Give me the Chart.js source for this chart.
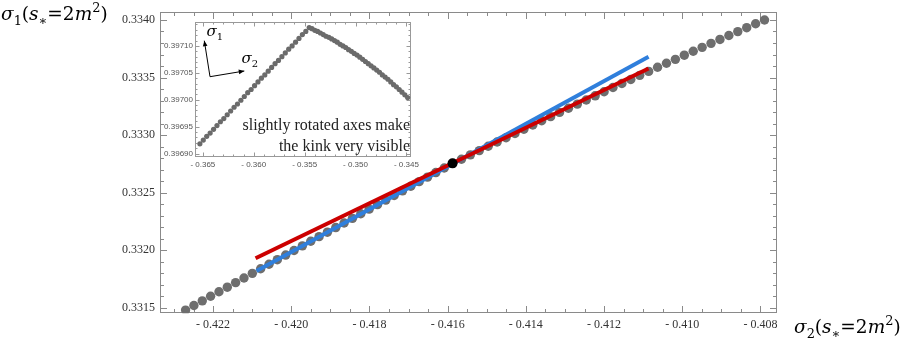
<!DOCTYPE html>
<html>
<head>
<meta charset="utf-8">
<script src="https://cdn.jsdelivr.net/npm/chart.js@4.4.1/dist/chart.umd.min.js"></script>
<style>
  body { margin: 0; background: #fff; }
  #wrap { position: relative; width: 900px; height: 345px; }
  #main { position: absolute; left: 0; top: 0; }
  #inset { position: absolute; left: 160px; top: 14px; }
</style>
</head>
<body>
<div id="wrap">
  <canvas id="main" width="900" height="345"></canvas>
  <canvas id="inset" width="262" height="160"></canvas>
</div>
<script>
// --- data ---
const sigma2 = [
  -0.422703, -0.422490, -0.422276, -0.422063, -0.421849, -0.421636, -0.421423, -0.421209, -0.420996, -0.420783,
  -0.420569, -0.420356, -0.420143, -0.419929, -0.419716, -0.419502, -0.419289, -0.419076, -0.418862, -0.418649,
  -0.418436, -0.418222, -0.418009, -0.417795, -0.417582, -0.417369, -0.417155, -0.416942, -0.416729, -0.416515,
  -0.416302, -0.416088, -0.415875,
  -0.415647, -0.415419, -0.415191, -0.414963, -0.414735, -0.414507, -0.414279, -0.414051, -0.413823, -0.413595,
  -0.413367, -0.413139, -0.412911, -0.412683, -0.412455, -0.412227, -0.411999, -0.411772, -0.411544, -0.411316,
  -0.411088, -0.410860, -0.410632, -0.410404, -0.410176, -0.409948, -0.409720, -0.409492, -0.409264, -0.409036,
  -0.408808, -0.408580, -0.408352, -0.408124, -0.407896
];
const sigma1 = [
  0.331479, 0.331519, 0.331559, 0.331599, 0.331638, 0.331678, 0.331718, 0.331758, 0.331798, 0.331838,
  0.331877, 0.331917, 0.331957, 0.331997, 0.332037, 0.332077, 0.332117, 0.332156, 0.332196, 0.332236,
  0.332276, 0.332316, 0.332356, 0.332395, 0.332435, 0.332475, 0.332515, 0.332555, 0.332595, 0.332634,
  0.332674, 0.332714, 0.332754,
  0.332790, 0.332828, 0.332865, 0.332903, 0.332940, 0.332977, 0.333014, 0.333051, 0.333087, 0.333124,
  0.333160, 0.333197, 0.333233, 0.333269, 0.333305, 0.333341, 0.333376, 0.333413, 0.333448, 0.333483,
  0.333519, 0.333553, 0.333589, 0.333624, 0.333658, 0.333694, 0.333728, 0.333762, 0.333797, 0.333831,
  0.333865, 0.333899, 0.333933, 0.333967, 0.334000
];
const kinkX = [-0.415875];
const kinkY = [0.332754];
const blueFitX = [-0.420888, -0.410862];
const blueFitY = [0.331819, 0.333681];
const redFitX = [-0.420913, -0.410862];
const redFitY = [0.331930, 0.333579];
const xTicks = [-0.422, -0.420, -0.418, -0.416, -0.414, -0.412, -0.410, -0.408];
const yTicks = [0.3315, 0.3320, 0.3325, 0.3330, 0.3335, 0.3340];

// inset (rotated axes)
const insetX = [
  -0.365290, -0.364954, -0.364619, -0.364283, -0.363948, -0.363612, -0.363276, -0.362941, -0.362605, -0.362269,
  -0.361934, -0.361598, -0.361263, -0.360927, -0.360591, -0.360256, -0.359920, -0.359584, -0.359249, -0.358913,
  -0.358578, -0.358242, -0.357906, -0.357571, -0.357235, -0.356899, -0.356564, -0.356228, -0.355893, -0.355557,
  -0.355221, -0.354886, -0.354550,
  -0.354274, -0.353997, -0.353721, -0.353445, -0.353169, -0.352892, -0.352616, -0.352340, -0.352063, -0.351787,
  -0.351511, -0.351234, -0.350958, -0.350682, -0.350405, -0.350129, -0.349853, -0.349577, -0.349300, -0.349024,
  -0.348748, -0.348471, -0.348195, -0.347919, -0.347642, -0.347366, -0.347090, -0.346814, -0.346537, -0.346261,
  -0.345985, -0.345708, -0.345432, -0.345156, -0.344879
];
const insetY = [
  0.396918, 0.396925, 0.396932, 0.396938, 0.396945, 0.396952, 0.396959, 0.396965, 0.396972, 0.396979,
  0.396986, 0.396992, 0.396999, 0.397006, 0.397013, 0.397019, 0.397026, 0.397033, 0.397040, 0.397046,
  0.397053, 0.397060, 0.397067, 0.397073, 0.397080, 0.397087, 0.397094, 0.397100, 0.397107, 0.397114,
  0.397121, 0.397127, 0.397134,
  0.397132, 0.397129, 0.397127, 0.397124, 0.397121, 0.397118, 0.397116, 0.397113, 0.397110, 0.397107,
  0.397103, 0.397100, 0.397097, 0.397093, 0.397090, 0.397086, 0.397083, 0.397079, 0.397075, 0.397071,
  0.397067, 0.397063, 0.397059, 0.397055, 0.397051, 0.397046, 0.397042, 0.397038, 0.397033, 0.397028,
  0.397024, 0.397019, 0.397014, 0.397009, 0.397004
];
const insetXTicks = [-0.365, -0.360, -0.355, -0.350, -0.345];
const insetYTicks = [0.39690, 0.39695, 0.39700, 0.39705, 0.39710];

const pts = (xs, ys) => xs.map((x, i) => ({ x: x, y: ys[i] }));
const minus = (v, d) => (v < 0 ? '- ' : '') + Math.abs(v).toFixed(d);

// 枠と内向きの目盛り（Mathematica風）
function framePlugin(o) {
  return {
    id: 'frame',
    beforeDatasetsDraw(chart) {
      const { ctx, chartArea: a } = chart;
      const sx = chart.scales.x, sy = chart.scales.y;
      ctx.save();
      ctx.strokeStyle = o.color;
      ctx.lineWidth = 1;
      const L = Math.round(a.left) + 0.5, R = Math.round(a.right) - 0.5;
      const T = Math.round(a.top) + 0.5, B = Math.round(a.bottom) - 0.5;
      ctx.strokeRect(L, T, R - L, B - T);
      ctx.beginPath();
      const xs = o.xTicks, ys = o.yTicks;
      const xStep = (xs[1] - xs[0]) / o.xMinor, yStep = (ys[1] - ys[0]) / o.yMinor;
      for (let k = -o.xMinor * 2; k <= (xs.length + 1) * o.xMinor; k++) {
        const v = xs[0] + k * xStep;
        if (v < sx.min || v > sx.max) continue;
        const len = (k % o.xMinor === 0) ? o.major : o.minor;
        const px = Math.round(sx.getPixelForValue(v)) + 0.5;
        ctx.moveTo(px, B); ctx.lineTo(px, B - len);
        ctx.moveTo(px, T); ctx.lineTo(px, T + len);
      }
      for (let k = -o.yMinor * 2; k <= (ys.length + 1) * o.yMinor; k++) {
        const v = ys[0] + k * yStep;
        if (v < sy.min || v > sy.max) continue;
        const len = (k % o.yMinor === 0) ? o.major : o.minor;
        const py = Math.round(sy.getPixelForValue(v)) + 0.5;
        ctx.moveTo(L, py); ctx.lineTo(L + len, py);
        ctx.moveTo(R, py); ctx.lineTo(R - len, py);
      }
      ctx.stroke();
      ctx.restore();
    }
  };
}

function drawRich(ctx, parts, x, y, size) {
  let cx = x;
  for (const p of parts) {
    const s = (p.sub || p.sup) ? size * 0.7 : size;
    ctx.font = (p.it ? 'italic ' : '') + s + 'px "DejaVu Serif"';
    const dy = p.sub ? size * 0.28 : (p.sup ? -size * 0.42 : 0);
    ctx.fillText(p.t, cx, y + dy);
    cx += ctx.measureText(p.t).width;
  }
}
const axisLabel = n => [
  { t: 'σ', it: 1 }, { t: n, sub: 1 }, { t: '(' }, { t: 's', it: 1 }, { t: '∗', sub: 1 },
  { t: '=2' }, { t: 'm', it: 1 }, { t: '2', sup: 1 }, { t: ')' }
];

const labelPlugin = {
  id: 'axisLabels',
  afterDraw(chart) {
    const ctx = chart.ctx;
    ctx.save();
    ctx.fillStyle = '#000';
    ctx.textBaseline = 'alphabetic';
    ctx.textAlign = 'left';
    drawRich(ctx, axisLabel('1'), 1, 20, 18.5);
    drawRich(ctx, axisLabel('2'), 794, 333, 18.5);
    ctx.restore();
  }
};

const tickFont = { family: '"Liberation Serif"', size: 12 };

new Chart(document.getElementById('main'), {
  type: 'scatter',
  data: {
    datasets: [
      { data: pts(kinkX, kinkY), backgroundColor: '#000', borderWidth: 0, pointRadius: 5, order: 1 },
      { type: 'line', data: pts(redFitX, redFitY), borderColor: '#cc0000', borderWidth: 4,
        pointRadius: 0, borderCapStyle: 'butt', order: 2 },
      { type: 'line', data: pts(blueFitX, blueFitY), borderColor: '#2f7fdc', borderWidth: 4,
        pointRadius: 0, borderCapStyle: 'butt', order: 3 },
      { data: pts(sigma2, sigma1), backgroundColor: '#6e6e6e', borderWidth: 0, pointRadius: 4.7, order: 4 }
    ]
  },
  options: {
    responsive: false,
    animation: false,
    layout: { padding: { left: 0, right: 123.5, top: 5, bottom: 0 } },
    plugins: { legend: { display: false }, tooltip: { enabled: false } },
    scales: {
      x: {
        type: 'linear', min: -0.42337, max: -0.40759,
        grid: { display: false, drawTicks: false }, border: { display: false },
        afterBuildTicks: s => { s.ticks = xTicks.map(v => ({ value: v })); },
        afterFit: s => { s.height = 31.7; },
        ticks: { autoSkip: false, maxRotation: 0, padding: 4, color: '#333', font: tickFont,
                 callback: v => minus(v, 3) }
      },
      y: {
        type: 'linear', min: 0.331451, max: 0.334072,
        grid: { display: false, drawTicks: false }, border: { display: false },
        afterBuildTicks: s => { s.ticks = yTicks.map(v => ({ value: v })); },
        afterFit: s => { s.width = 159.5; },
        ticks: { autoSkip: false, padding: 4.5, color: '#333', font: tickFont,
                 callback: v => v.toFixed(4) }
      }
    }
  },
  plugins: [framePlugin({ color: '#8a8a8a', xTicks, yTicks, xMinor: 4, yMinor: 5, major: 6.5, minor: 3.5 }),
            labelPlugin]
});

// インセット: 矢印と説明文
const insetNotes = {
  id: 'insetNotes',
  afterDraw(chart) {
    const ctx = chart.ctx;
    ctx.save();
    ctx.strokeStyle = '#000'; ctx.fillStyle = '#000'; ctx.lineWidth = 1;
    const arrow = (x0, y0, x1, y1) => {
      ctx.beginPath(); ctx.moveTo(x0, y0); ctx.lineTo(x1, y1); ctx.stroke();
      const ang = Math.atan2(y1 - y0, x1 - x0), h = 6;
      ctx.beginPath();
      ctx.moveTo(x1, y1);
      ctx.lineTo(x1 - h * Math.cos(ang - 0.4), y1 - h * Math.sin(ang - 0.4));
      ctx.lineTo(x1 - h * Math.cos(ang + 0.4), y1 - h * Math.sin(ang + 0.4));
      ctx.closePath(); ctx.fill();
    };
    arrow(50, 62.7, 44.3, 26.7);
    arrow(50, 62.7, 84.3, 57);
    const sig = (n, x, y) => {
      ctx.font = 'italic 15px "DejaVu Serif"'; ctx.fillText('σ', x, y);
      const w = ctx.measureText('σ').width;
      ctx.font = '10px "DejaVu Serif"'; ctx.fillText(n, x + w, y + 4);
    };
    ctx.textAlign = 'left';
    sig('1', 46.5, 22);
    sig('2', 81.5, 49);
    ctx.textAlign = 'right';
    ctx.font = '16px "Liberation Serif"';
    ctx.fillStyle = '#222';
    ctx.fillText('slightly rotated axes make', 250, 115.5);
    ctx.fillText('the kink very visible', 250, 137);
    ctx.restore();
  }
};

const insetFont = { family: '"Liberation Sans"', size: 8 };

new Chart(document.getElementById('inset'), {
  type: 'scatter',
  data: {
    datasets: [
      { data: pts(insetX, insetY), backgroundColor: '#6b6b6b', borderWidth: 0, pointRadius: 2.6 }
    ]
  },
  options: {
    responsive: false,
    animation: false,
    layout: { padding: { left: 0, right: 6, top: 7.7, bottom: 0 } },
    plugins: { legend: { display: false }, tooltip: { enabled: false } },
    scales: {
      x: {
        type: 'linear', min: -0.36577, max: -0.34452,
        grid: { display: false, drawTicks: false }, border: { display: false },
        afterBuildTicks: s => { s.ticks = insetXTicks.map(v => ({ value: v })); },
        afterFit: s => { s.height = 17; },
        ticks: { autoSkip: false, maxRotation: 0, padding: 3, color: '#555', font: insetFont,
                 callback: v => minus(v, 3) }
      },
      y: {
        type: 'linear', min: 0.3968935, max: 0.397145,
        grid: { display: false, drawTicks: false }, border: { display: false },
        afterBuildTicks: s => { s.ticks = insetYTicks.map(v => ({ value: v })); },
        afterFit: s => { s.width = 35; },
        ticks: { autoSkip: false, padding: 2, color: '#555', font: insetFont,
                 callback: v => v.toFixed(5) }
      }
    }
  },
  plugins: [framePlugin({ color: '#999', xTicks: insetXTicks, yTicks: insetYTicks,
                          xMinor: 5, yMinor: 5, major: 4, minor: 2 }), insetNotes]
});
</script>
</body>
</html>
